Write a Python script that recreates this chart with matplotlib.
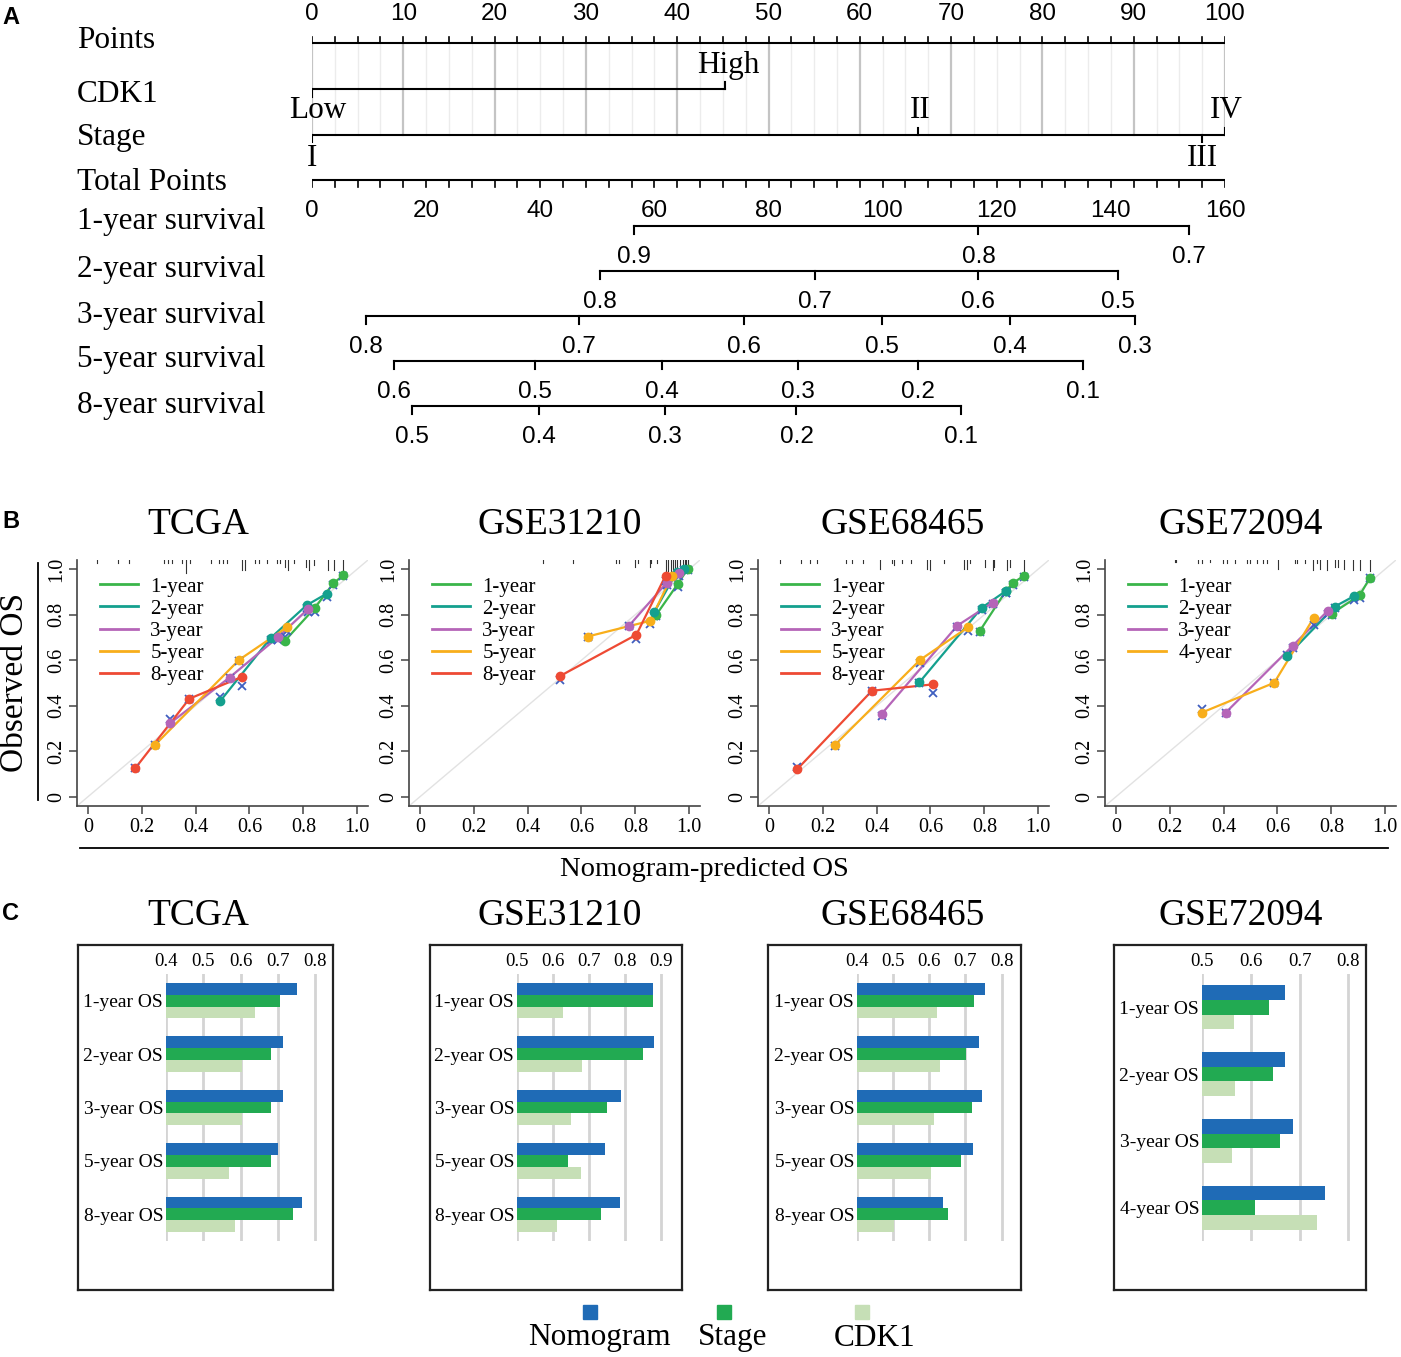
import numpy as np
import matplotlib.pyplot as plt
from matplotlib.lines import Line2D

W, H = 1401, 1357
SERIF = 'Liberation Serif'
SANS = 'Liberation Sans'

# ---------------- panel A: nomogram ----------------
points_ticks = list(range(0, 101, 10))
cdk1_levels = ['Low', 'High']
cdk1_points = [0, 45.2]
stage_levels = ['I', 'II', 'III', 'IV']
stage_points = [0, 66.4, 97.5, 100]
stage_up = [False, True, False, True]
total_ticks = list(range(0, 161, 20))

surv_names = ['1-year survival', '2-year survival', '3-year survival',
              '5-year survival', '8-year survival']
surv_labels = [['0.9', '0.8', '0.7'],
               ['0.8', '0.7', '0.6', '0.5'],
               ['0.8', '0.7', '0.6', '0.5', '0.4', '0.3'],
               ['0.6', '0.5', '0.4', '0.3', '0.2', '0.1'],
               ['0.5', '0.4', '0.3', '0.2', '0.1']]
# total points where each survival probability sits
surv_total = [[56.4, 116.8, 153.7],
              [50.5, 88.1, 116.7, 141.2],
              [9.4, 46.8, 75.7, 99.9, 122.3, 144.3],
              [14.4, 39.0, 61.3, 85.1, 106.2, 135.1],
              [17.5, 39.8, 61.8, 84.9, 113.7]]

# ---------------- panel B: calibration ----------------
horizons_5 = ['1-year', '2-year', '3-year', '5-year', '8-year']
horizons_4 = ['1-year', '2-year', '3-year', '4-year']
horizon_colors = ['#3AB54A', '#14A08E', '#B565B8', '#F8AE1B', '#EE4A34']

tcga_pred = [[0.732, 0.843, 0.911, 0.948], [0.491, 0.679, 0.812, 0.886],
             [0.306, 0.526, 0.707, 0.819], [0.251, 0.562, 0.741],
             [0.177, 0.377, 0.574]]
tcga_obs = [[0.686, 0.830, 0.937, 0.973], [0.420, 0.698, 0.841, 0.892],
            [0.324, 0.524, 0.702, 0.827], [0.230, 0.602, 0.746],
            [0.127, 0.431, 0.528]]
tcga_corr = [[0.700, 0.810, 0.930, 0.970], [0.440, 0.690, 0.830, 0.876],
             [0.340, 0.520, 0.690, 0.810], [0.230, 0.595, 0.730],
             [0.127, 0.431, 0.487]]
tcga_rug = [0.036, 0.112, 0.153, 0.283, 0.299, 0.314, 0.351, 0.364, 0.381,
            0.456, 0.486, 0.502, 0.517, 0.573, 0.585, 0.622, 0.635, 0.666,
            0.703, 0.712, 0.733, 0.742, 0.764, 0.811, 0.820, 0.838, 0.890,
            0.912, 0.949]
tcga_rug_len = [0.012, 0.015, 0.015, 0.015, 0.012, 0.015, 0.012, 0.055, 0.012,
                0.012, 0.015, 0.012, 0.012, 0.045, 0.045, 0.015, 0.015, 0.015,
                0.015, 0.015, 0.03, 0.045, 0.015, 0.03, 0.045, 0.02, 0.045,
                0.045, 0.05]

g31_pred = [[0.878, 0.957, 0.994], [0.870, 0.954, 0.981],
            [0.777, 0.917, 0.963], [0.623, 0.855, 0.936],
            [0.521, 0.804, 0.912]]
g31_obs = [[0.800, 0.934, 1.000], [0.811, 0.988, 1.000],
           [0.752, 0.941, 0.982], [0.704, 0.773, 0.971],
           [0.531, 0.712, 0.971]]
g31_corr = [[0.795, 0.920, 0.995], [0.795, 0.975, 0.995],
            [0.750, 0.930, 0.970], [0.700, 0.760, 0.960],
            [0.515, 0.695, 0.950]]
g31_rug = [0.458, 0.568, 0.729, 0.741, 0.797, 0.809, 0.853, 0.859, 0.881,
           0.915, 0.921, 0.933, 0.939, 0.948, 0.955, 0.964, 0.977, 0.983,
           0.989, 0.995]
g31_rug_len = [0.015, 0.015, 0.015, 0.012, 0.03, 0.015, 0.03, 0.015, 0.015,
               0.05, 0.05, 0.05, 0.04, 0.05, 0.05, 0.04, 0.05, 0.04, 0.05, 0.05]

g68_pred = [[0.784, 0.880, 0.905, 0.947], [0.559, 0.790, 0.880],
            [0.420, 0.700, 0.831], [0.247, 0.562, 0.741],
            [0.105, 0.383, 0.609]]
g68_obs = [[0.730, 0.904, 0.938, 0.971], [0.503, 0.830, 0.904],
           [0.366, 0.752, 0.853], [0.230, 0.602, 0.746],
           [0.121, 0.466, 0.494]]
g68_corr = [[0.725, 0.895, 0.930, 0.965], [0.500, 0.820, 0.895],
            [0.355, 0.745, 0.845], [0.225, 0.590, 0.730],
            [0.130, 0.465, 0.454]]
g68_rug = [0.042, 0.119, 0.153, 0.180, 0.285, 0.310, 0.351, 0.412, 0.458,
           0.464, 0.495, 0.526, 0.588, 0.600, 0.649, 0.723, 0.736, 0.748,
           0.804, 0.832, 0.837, 0.884, 0.896, 0.948]
g68_rug_len = [0.012, 0.015, 0.015, 0.012, 0.015, 0.015, 0.012, 0.04, 0.015,
               0.02, 0.015, 0.015, 0.04, 0.045, 0.015, 0.04, 0.04, 0.015,
               0.03, 0.045, 0.03, 0.045, 0.03, 0.05]

g72_pred = [[0.802, 0.905, 0.944], [0.637, 0.812, 0.885],
            [0.408, 0.657, 0.786], [0.319, 0.588, 0.734]]
g72_obs = [[0.805, 0.885, 0.963], [0.619, 0.835, 0.882],
           [0.370, 0.664, 0.816], [0.370, 0.501, 0.785]]
g72_corr = [[0.800, 0.875, 0.960], [0.625, 0.830, 0.865],
            [0.370, 0.655, 0.805], [0.385, 0.500, 0.755]]
g72_rug = [0.219, 0.225, 0.306, 0.319, 0.349, 0.399, 0.411, 0.442, 0.486,
           0.498, 0.523, 0.548, 0.562, 0.603, 0.665, 0.672, 0.703, 0.733,
           0.746, 0.758, 0.783, 0.814, 0.823, 0.846, 0.882, 0.906, 0.944]
g72_rug_len = [0.01, 0.01, 0.012, 0.012, 0.01, 0.012, 0.012, 0.012, 0.012,
               0.012, 0.012, 0.012, 0.012, 0.04, 0.015, 0.015, 0.012, 0.045,
               0.015, 0.04, 0.045, 0.03, 0.03, 0.04, 0.045, 0.045, 0.05]

# ---------------- panel C: AUC bars ----------------
cohorts = ['TCGA', 'GSE31210', 'GSE68465', 'GSE72094']
os_5 = ['1-year OS', '2-year OS', '3-year OS', '5-year OS', '8-year OS']
os_4 = ['1-year OS', '2-year OS', '3-year OS', '4-year OS']
models = ['Nomogram', 'Stage', 'CDK1']
model_colors = ['#1F6BB6', '#22AA52', '#C6DFB6']

tcga_nomo = [0.751, 0.713, 0.713, 0.700, 0.765]
tcga_stage = [0.706, 0.681, 0.681, 0.681, 0.741]
tcga_cdk1 = [0.639, 0.604, 0.604, 0.569, 0.586]
g31_nomo = [0.878, 0.881, 0.791, 0.746, 0.788]
g31_stage = [0.878, 0.852, 0.751, 0.642, 0.733]
g31_cdk1 = [0.628, 0.680, 0.649, 0.678, 0.610]
g68_nomo = [0.754, 0.738, 0.747, 0.720, 0.637]
g68_stage = [0.724, 0.701, 0.718, 0.688, 0.652]
g68_cdk1 = [0.621, 0.629, 0.613, 0.606, 0.502]
g72_nomo = [0.670, 0.671, 0.686, 0.752]
g72_stage = [0.637, 0.646, 0.660, 0.609]
g72_cdk1 = [0.565, 0.568, 0.562, 0.736]

plt.rcParams['font.family'] = [SERIF, 'DejaVu Serif']
fig = plt.figure(figsize=(W / 100, H / 100), dpi=100)


def px_axes(x0, y0, x1, y1):
    return fig.add_axes([x0 / W, 1 - y1 / H, (x1 - x0) / W, (y1 - y0) / H])


def fig_text(x, y, s, **kw):
    fig.text(x / W, 1 - y / H, s, **kw)


# ---------- A ----------
axA = px_axes(312, 0, 1225, 460)
axA.set_xlim(0, 100)
axA.set_ylim(460, 0)
axA.axis('off')


def tp(t):
    return np.asarray(t, dtype=float) * 100 / 160


for p in np.arange(0, 100.01, 2.5):
    major = abs(p % 10) < 1e-9
    axA.plot([p, p], [43, 135], color='#C4C4C4' if major else '#ECECEC',
             lw=1.6 if major else 1.0, zorder=0)

axA.plot([0, 100], [43, 43], color='k', lw=1.5)
for p in np.arange(0, 100.01, 2.5):
    axA.plot([p, p], [37, 43], color='k', lw=1.2)
for p in points_ticks:
    axA.text(p, 14, str(p), ha='center', va='center', fontsize=17.5, family=SANS)

# CDK1
axA.plot(cdk1_points, [89, 89], color='k', lw=1.5)
axA.plot([cdk1_points[0]] * 2, [89, 97], color='k', lw=1.5)
axA.plot([cdk1_points[1]] * 2, [82, 89], color='k', lw=1.5)
axA.text(cdk1_points[0] + 0.6, 110, cdk1_levels[0], ha='center', va='center', fontsize=22.5)
axA.text(cdk1_points[1] + 0.4, 66, cdk1_levels[1], ha='center', va='center', fontsize=22.5)

# Stage
axA.plot([stage_points[0], stage_points[-1]], [135, 135], color='k', lw=1.5)
for lv, p, up in zip(stage_levels, stage_points, stage_up):
    if up:
        axA.plot([p, p], [128, 135], color='k', lw=1.5)
        axA.text(p + 0.2, 110, lv, ha='center', va='center', fontsize=22.5)
    else:
        axA.plot([p, p], [135, 142], color='k', lw=1.5)
        axA.text(p, 158, lv, ha='center', va='center', fontsize=22.5)

# Total points
axA.plot([0, 100], [180, 180], color='k', lw=1.5)
for t in np.arange(0, 160.01, 4):
    axA.plot([tp(t)] * 2, [180, 187], color='k', lw=1.2)
for t in total_ticks:
    axA.text(tp(t), 211, str(t), ha='center', va='center', fontsize=17.5, family=SANS)

# survival scales
for i, (labs, tots) in enumerate(zip(surv_labels, surv_total)):
    y = 226 + 45 * i
    xs = tp(tots)
    axA.plot([xs.min(), xs.max()], [y, y], color='k', lw=1.5)
    for x, lab in zip(xs, labs):
        axA.plot([x, x], [y, y + 8], color='k', lw=1.5)
        axA.text(x, y + 31, lab, ha='center', va='center', fontsize=17.5, family=SANS)

row_names = ['Points', 'CDK1', 'Stage', 'Total Points'] + surv_names
row_y = [40, 95, 138, 182, 222, 269, 315, 359, 405]
for name, y in zip(row_names, row_y):
    fig_text(77, y, name, ha='left', va='center', fontsize=22.5)

for letter, y in zip(['A', 'B', 'C'], [18, 522, 913]):
    fig_text(2, y, letter, ha='left', va='center', fontsize=17,
             fontweight='bold', family=SANS)

# ---------- B ----------
cal_sets = [
    (tcga_pred, tcga_obs, tcga_corr, tcga_rug, tcga_rug_len, horizons_5),
    (g31_pred, g31_obs, g31_corr, g31_rug, g31_rug_len, horizons_5),
    (g68_pred, g68_obs, g68_corr, g68_rug, g68_rug_len, horizons_5),
    (g72_pred, g72_obs, g72_corr, g72_rug, g72_rug_len, horizons_4),
]
cal_left = [77, 409, 758, 1105]
title_x = [198, 560, 903, 1241]

for k, (pred, obs, corr, rug, rlen, hz) in enumerate(cal_sets):
    ax = px_axes(cal_left[k], 560, cal_left[k] + 291, 806)
    ax.set_xlim(-0.04, 1.04)
    ax.set_ylim(-0.04, 1.04)
    ax.plot([-0.04, 1.04], [-0.04, 1.04], color='#E2E2E2', lw=1, zorder=0)
    for x, L in zip(rug, rlen):
        ax.plot([x, x], [1.04 - L, 1.04], color='#333333', lw=0.8)
    handles = []
    for j, name in enumerate(hz):
        c = horizon_colors[j]
        ax.plot(pred[j], obs[j], color=c, lw=1.6, zorder=2)
        ax.plot(pred[j], corr[j], ls='none', marker='x', ms=6, mew=1.3,
                color='#3F5FC0', zorder=3)
        ax.plot(pred[j], obs[j], ls='none', marker='o', ms=6,
                color=c, zorder=4)
        handles.append(Line2D([], [], color=c, lw=2, label=name))
    ax.legend(handles=handles, loc='upper left', bbox_to_anchor=(0.03, 0.99),
              frameon=False, fontsize=15, handlelength=1.8, handletextpad=0.6,
              labelspacing=0.12, borderaxespad=0.3)
    for s in ['top', 'right']:
        ax.spines[s].set_visible(False)
    for s in ['left', 'bottom']:
        ax.spines[s].set_color('#444444')
        ax.spines[s].set_linewidth(1.2)
    ticks = [0, 0.2, 0.4, 0.6, 0.8, 1.0]
    tlabs = ['0', '0.2', '0.4', '0.6', '0.8', '1.0']
    ax.set_xticks(ticks, tlabs)
    ax.set_yticks(ticks, tlabs)
    ax.tick_params(axis='both', length=6, width=1.1, color='#444444',
                   labelsize=14.5, pad=3)
    ax.tick_params(axis='y', pad=1.5)
    for lab in ax.get_yticklabels():
        lab.set_rotation(90)
        lab.set_va('center')
    fig_text(title_x[k], 525, cohorts[k], ha='center', va='center', fontsize=27)

fig_text(15, 682, 'Observed OS', ha='center', va='center', fontsize=24, rotation=90)
fig.add_artist(Line2D([38 / W, 38 / W], [1 - 563 / H, 1 - 800 / H],
                      color='k', lw=1.3, transform=fig.transFigure))
fig.add_artist(Line2D([80 / W, 1388 / W], [1 - 848 / H, 1 - 848 / H],
                      color='k', lw=1.3, transform=fig.transFigure))
fig_text(704, 870, 'Nomogram-predicted OS', ha='center', va='center', fontsize=20.5)

# ---------- C ----------
bar_sets = [
    (tcga_nomo, tcga_stage, tcga_cdk1, os_5, (0.4, 0.84), [0.4, 0.5, 0.6, 0.7, 0.8]),
    (g31_nomo, g31_stage, g31_cdk1, os_5, (0.5, 0.94), [0.5, 0.6, 0.7, 0.8, 0.9]),
    (g68_nomo, g68_stage, g68_cdk1, os_5, (0.4, 0.84), [0.4, 0.5, 0.6, 0.7, 0.8]),
    (g72_nomo, g72_stage, g72_cdk1, os_4, (0.5, 0.83), [0.5, 0.6, 0.7, 0.8]),
]
box_x = [(78, 333), (430, 682), (768, 1021), (1114, 1366)]
bar_x = [(166, 330), (517, 675), (857, 1016), (1202, 1363)]

for k, (nomo, stage, cdk1, cats, xl, xt) in enumerate(bar_sets):
    box = px_axes(box_x[k][0], 945, box_x[k][1], 1290)
    box.set_xticks([])
    box.set_yticks([])
    for s in box.spines.values():
        s.set_color('#222222')
        s.set_linewidth(1.6)
    ax = px_axes(bar_x[k][0], 974, bar_x[k][1], 1241)
    ax.patch.set_visible(False)
    n = len(cats)
    pos = np.arange(n)
    hb = 0.22
    for m, (vals, c) in enumerate(zip([nomo, stage, cdk1], model_colors)):
        ax.barh(pos + (m - 1) * hb, np.array(vals) - xl[0], left=xl[0],
                height=hb, color=c, zorder=2)
    ax.set_xlim(*xl)
    ax.set_ylim(n - 0.5, -0.5)
    for v in xt:
        ax.axvline(v, color='#D4D4D4', lw=2, zorder=1)
    ax.xaxis.tick_top()
    ax.set_xticks(xt, [f'{v:.1f}' for v in xt])
    ax.set_yticks(pos, cats)
    ax.tick_params(axis='x', length=0, labelsize=13.5, pad=3)
    ax.tick_params(axis='y', length=0, labelsize=14, pad=2)
    for s in ax.spines.values():
        s.set_visible(False)
    fig_text(title_x[k], 916, cohorts[k], ha='center', va='center', fontsize=27)

leg_sq = [590, 724, 862]
leg_tx = [599, 733, 875]
for name, c, xs, xt_ in zip(models, model_colors, leg_sq, leg_tx):
    fig.add_artist(Line2D([xs / W], [1 - 1312 / H], marker='s', ms=10, color=c,
                          ls='none', transform=fig.transFigure))
    fig_text(xt_, 1338, name, ha='center', va='center', fontsize=22.5)

fig.savefig('out.png', dpi=100)
